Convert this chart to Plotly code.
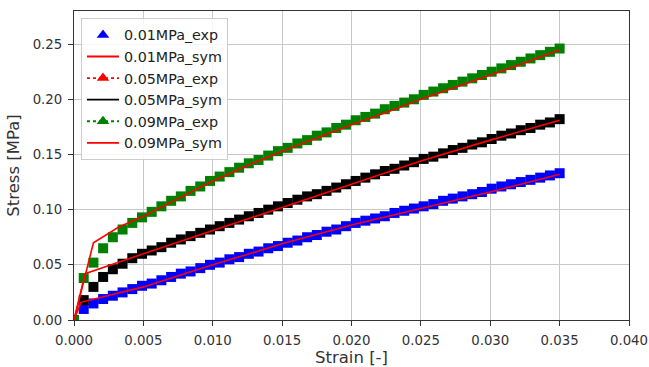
import plotly.graph_objects as go

# ---------------- data ----------------
exp_strain = [round(0.0007 * k, 4) for k in range(51)]

exp_001 = [0.000, 0.010, 0.015, 0.019, 0.022, 0.025, 0.028, 0.031, 0.033, 0.036,
           0.039, 0.042, 0.044, 0.047, 0.050, 0.052, 0.055, 0.057, 0.060, 0.062,
           0.065, 0.067, 0.070, 0.072, 0.075, 0.077, 0.080, 0.082, 0.085, 0.088,
           0.090, 0.092, 0.094, 0.097, 0.099, 0.101, 0.103, 0.105, 0.108, 0.110,
           0.112, 0.114, 0.116, 0.119, 0.121, 0.123, 0.125, 0.127, 0.129, 0.131,
           0.133]

exp_005 = [0.000, 0.018, 0.030, 0.039, 0.046, 0.051, 0.056, 0.060, 0.063, 0.066,
           0.070, 0.073, 0.076, 0.079, 0.082, 0.085, 0.088, 0.091, 0.094, 0.097,
           0.100, 0.103, 0.106, 0.109, 0.112, 0.114, 0.117, 0.120, 0.123, 0.126,
           0.129, 0.132, 0.135, 0.137, 0.140, 0.143, 0.146, 0.148, 0.151, 0.154,
           0.156, 0.159, 0.161, 0.164, 0.167, 0.169, 0.172, 0.174, 0.177, 0.179,
           0.182]

exp_009 = [0.000, 0.038, 0.052, 0.065, 0.075, 0.082, 0.088, 0.093, 0.098, 0.103,
           0.108, 0.112, 0.117, 0.121, 0.126, 0.130, 0.134, 0.138, 0.142, 0.145,
           0.149, 0.153, 0.156, 0.160, 0.163, 0.167, 0.170, 0.174, 0.177, 0.181,
           0.184, 0.187, 0.191, 0.194, 0.197, 0.200, 0.204, 0.207, 0.210, 0.213,
           0.216, 0.219, 0.222, 0.225, 0.228, 0.231, 0.234, 0.237, 0.240, 0.243,
           0.246]

sym_001_strain = [0.0, 0.0005, 0.005, 0.010, 0.015, 0.020, 0.025, 0.030, 0.035]
sym_001 = [0.0, 0.016, 0.030, 0.050, 0.069, 0.086, 0.101, 0.116, 0.132]

sym_005_strain = [0.0, 0.0008, 0.005, 0.010, 0.015, 0.020, 0.025, 0.030, 0.035]
sym_005 = [0.0, 0.042, 0.060, 0.081, 0.102, 0.123, 0.144, 0.163, 0.181]

sym_009_strain = [0.0, 0.0014, 0.0032, 0.005, 0.0075, 0.010, 0.0125, 0.015,
                  0.0175, 0.020, 0.0225, 0.025, 0.0275, 0.030, 0.0325, 0.035]
sym_009 = [0.0, 0.070, 0.084, 0.094, 0.110, 0.126, 0.140, 0.153,
           0.165, 0.177, 0.188, 0.200, 0.211, 0.222, 0.233, 0.245]

legend_names = ["0.01MPa_exp", "0.01MPa_sym", "0.05MPa_exp",
                "0.05MPa_sym", "0.09MPa_exp", "0.09MPa_sym"]

x_ticks = [0.000, 0.005, 0.010, 0.015, 0.020, 0.025, 0.030, 0.035, 0.040]
y_ticks = [0.00, 0.05, 0.10, 0.15, 0.20, 0.25]

# ---------------- figure ----------------
BLUE, RED, GREEN, BLACK = "#0000ff", "#ff0000", "#008000", "#000000"
fig = go.Figure()

for ys, col in [(exp_001, BLUE), (exp_005, BLACK), (exp_009, GREEN)]:
    fig.add_trace(go.Scatter(x=exp_strain, y=ys, mode="markers", showlegend=False,
                             marker=dict(symbol="square", size=10, color=col,
                                         line=dict(width=0))))

for xs, ys in [(sym_001_strain, sym_001), (sym_005_strain, sym_005),
               (sym_009_strain, sym_009)]:
    fig.add_trace(go.Scatter(x=xs, y=ys, mode="lines", showlegend=False,
                             line=dict(color=RED, width=1.6)))

# legend entries (as in the original figure's legend)
leg_styles = [
    dict(mode="markers", marker=dict(symbol="triangle-up", size=11, color=BLUE)),
    dict(mode="lines", line=dict(color=RED, width=1.8)),
    dict(mode="lines+markers", line=dict(color=RED, width=1.8, dash="dot"),
         marker=dict(symbol="triangle-up", size=11, color=RED)),
    dict(mode="lines", line=dict(color=BLACK, width=1.8)),
    dict(mode="lines+markers", line=dict(color=GREEN, width=1.8, dash="dot"),
         marker=dict(symbol="triangle-up", size=11, color=GREEN)),
    dict(mode="lines", line=dict(color=RED, width=1.8)),
]
for name, st in zip(legend_names, leg_styles):
    fig.add_trace(go.Scatter(x=[None], y=[None], name=name, **st))

axis_common = dict(showline=True, linecolor="#333333", linewidth=1.2, mirror=True,
                   ticks="outside", ticklen=5, tickcolor="#333333",
                   showgrid=True, gridcolor="#c8c8c8", gridwidth=1, zeroline=False,
                   automargin=False, ticklabelstandoff=3,
                   tickfont=dict(size=13.3, color="#333333"))

fig.update_layout(
    width=649, height=367,
    margin=dict(l=74, r=20, t=11, b=47),
    paper_bgcolor="white", plot_bgcolor="white",
    font=dict(family="DejaVu Sans", color="#333333"),
    xaxis=dict(range=[0, 0.040], tickvals=x_ticks, tickformat=".3f",
               title=dict(text="Strain [-]", font=dict(size=16.5), standoff=5),
               **axis_common),
    yaxis=dict(range=[0, 0.28], tickvals=y_ticks, tickformat=".2f",
               title=dict(text="Stress [MPa]", font=dict(size=16.5), standoff=8),
               **axis_common),
    legend=dict(x=0.0126, y=0.977, xanchor="left", yanchor="top",
                bgcolor="rgba(255,255,255,0.85)", bordercolor="#cccccc", borderwidth=1,
                font=dict(size=14.3, color="#222222"), itemwidth=32,
                tracegroupgap=0),
)

# remove the browser's default 8px body margin so the figure fills the window
fig.write_html("out.html",
               config={"displayModeBar": False},
               post_script="document.body.style.margin='0';"
                           "document.body.style.overflow='hidden';")
